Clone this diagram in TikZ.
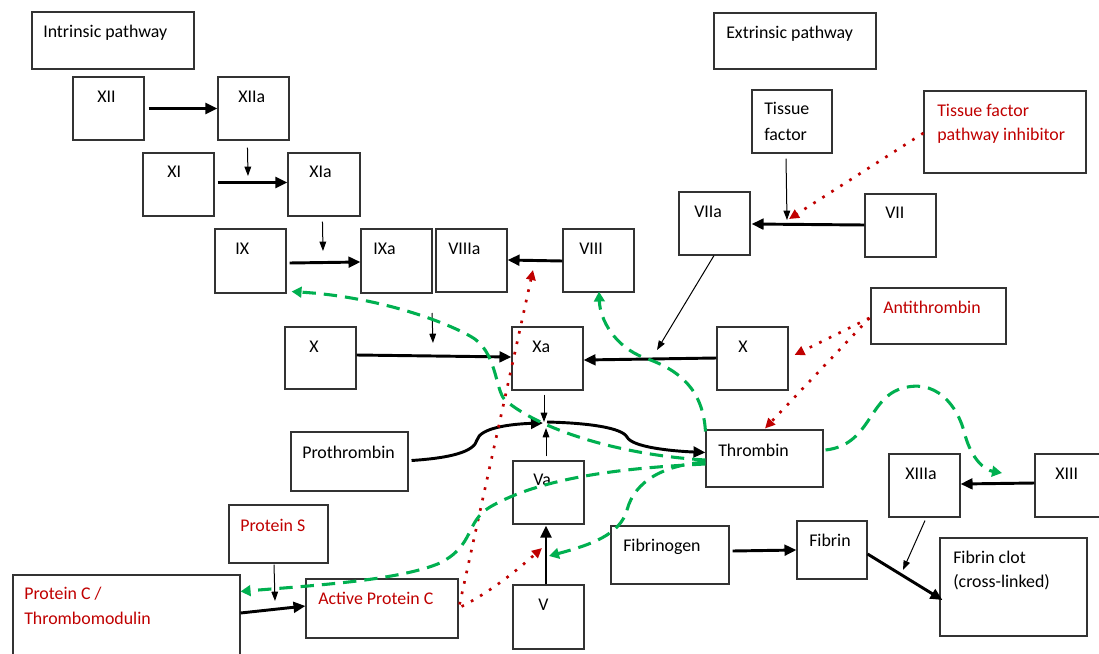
\documentclass[tikz,border=0pt]{standalone}
\usepackage{fontspec}
\setmainfont{Carlito}
\usetikzlibrary{arrows.meta,fit,calc}
\definecolor{myred}{RGB}{192,0,0}
\definecolor{mygreen}{RGB}{0,176,80}
\newcommand\labfont{\fontsize{13.4}{18}\selectfont}
\begin{document}
\begin{tikzpicture}[x=0.75pt,y=-0.75pt,
  box/.style={draw=black!80,line width=0.8pt,inner sep=0pt},
  lbl/.style={anchor=base west,inner sep=0pt,font=\labfont,text=black},
  rlbl/.style={lbl,text=myred},
  thk/.style={line width=2.2pt,-{Triangle[length=9pt,width=8pt]}},
  thn/.style={line width=0.75pt,-{Triangle[length=7pt,width=5pt]}},
  rdot/.style={draw=myred,line width=2pt,dash pattern=on 2pt off 6pt,-{Triangle[length=7.5pt,width=7pt]}},
  gdash/.style={draw=mygreen,line width=2.3pt,dash pattern=on 10pt off 6pt,-{Triangle[length=7.5pt,width=8pt]}}]
\useasboundingbox (0,0) rectangle (1099,653);
\fill[white] (0,0) rectangle (1099,653);
\clip (0,0) rectangle (1099,653);

% boxes
\node[box,fit={(32,12) (194,69)}] (intr) {};
\node[box,fit={(73,77) (144,140)}] (xii) {};
\node[box,fit={(218,77) (289,140)}] (xiia) {};
\node[box,fit={(143,153) (214,216)}] (xi) {};
\node[box,fit={(288,153) (360,216)}] (xia) {};
\node[box,fit={(215,229) (286,293)}] (ix) {};
\node[box,fit={(361,229) (432,293)}] (ixa) {};
\node[box,fit={(436,229) (507,292)}] (viiia) {};
\node[box,fit={(563,229) (634,292)}] (viii) {};
\node[box,fit={(285,327) (356,389)}] (xl) {};
\node[box,fit={(512,327) (583,390)}] (xa) {};
\node[box,fit={(717,327) (788,390)}] (xr) {};
\node[box,fit={(291,432) (408,491)}] (pro) {};
\node[box,fit={(706,430) (823,487)}] (thr) {};
\node[box,fit={(513,461) (584,524)}] (va) {};
\node[box,fit={(513,585) (584,649)}] (v) {};
\node[box,fit={(229,505) (328,563)}] (ps) {};
\node[box,fit={(13,575) (240,665)}] (pc) {};
\node[box,fit={(306,579) (458,638)}] (apc) {};
\node[box,fit={(611,526) (729,584)}] (fgn) {};
\node[box,fit={(797,521) (867,579)}] (fib) {};
\node[box,fit={(889,454) (960,517)}] (xiiia) {};
\node[box,fit={(1035,454) (1110,517)}] (xiii) {};
\node[box,fit={(940,538) (1087,636)}] (clot) {};
\node[box,fit={(714,13) (876,69)}] (extr) {};
\node[box,fit={(752,90) (832,153)}] (tf) {};
\node[box,fit={(924,91) (1086,173)}] (tfpi) {};
\node[box,fit={(679,192) (750,255)}] (viia) {};
\node[box,fit={(865,194) (936,257)}] (vii) {};
\node[box,fit={(871,288) (1006,344)}] (at) {};

% labels
\node[lbl] (l-intr) at (43,37) {Intrinsic pathway};
\node[lbl] (l-xii) at (97,102) {XII};
\node[lbl] (l-xiia) at (238,102) {XIIa};
\node[lbl] (l-xi) at (167,177) {XI};
\node[lbl] (l-xia) at (309,177) {XIa};
\node[lbl] (l-ix) at (235,254) {IX};
\node[lbl] (l-ixa) at (373,254) {IXa};
\node[lbl] (l-viiia) at (448,254) {VIIIa};
\node[lbl] (l-viii) at (579,254) {VIII};
\node[lbl] (l-xa) at (532,352) {Xa};
\node[lbl] (l-xr) at (738,352) {X};
\node[lbl] (l-xl) at (309,352) {X};
\node[lbl] (l-thr) at (718,456) {Thrombin};
\node[lbl] (l-pro) at (302,458) {Prothrombin};
\node[lbl] (l-va) at (533,485) {Va};
\node[lbl] (l-v) at (538,610) {V};
\node[rlbl] (l-ps) at (240,531) {Protein S};
\node[rlbl] (l-pc1) at (24,599) {Protein C /};
\node[rlbl] (l-pc2) at (24,624) {Thrombomodulin};
\node[rlbl] (l-apc) at (318,604) {Active Protein C};
\node[lbl] (l-fgn) at (623,551) {Fibrinogen};
\node[lbl] (l-fib) at (809,546) {Fibrin};
\node[lbl] (l-xiiia) at (905,479) {XIIIa};
\node[lbl] (l-xiii) at (1055,479) {XIII};
\node[lbl] (l-clot1) at (953,563) {Fibrin clot};
\node[lbl] (l-clot2) at (953,587) {(cross-linked)};
\node[lbl] (l-extr) at (726,38) {Extrinsic pathway};
\node[lbl] (l-tf1) at (764,114) {Tissue};
\node[lbl] (l-tf2) at (764,140) {factor};
\node[rlbl] (l-tfpi1) at (937,116) {Tissue factor};
\node[rlbl] (l-tfpi2) at (937,140) {pathway inhibitor};
\node[lbl] (l-viia) at (694,217) {VIIa};
\node[lbl] (l-vii) at (885,218) {VII};
\node[rlbl] (l-at) at (883,313) {Antithrombin};

% free ends
\coordinate (mid) at (545,423);
\coordinate (j1) at (248,176);
\coordinate (j2) at (323,251);
\coordinate (j3s) at (432,313);
\coordinate (j3) at (433,343);
\coordinate (j4) at (657,350);
\coordinate (j7) at (787,220);
\coordinate (j8) at (275,601);
\coordinate (j9) at (903,570);
\coordinate (j10) at (789,219);
\coordinate (j11) at (533,270);
\coordinate (j12) at (542,548);
\coordinate (j13) at (549,556);
\coordinate (j14) at (1002,473);

% thick black arrows
\draw[thk] ($(xii.east)+(4,0)$) -- (xiia.west);
\draw[thk] ($(xi.east)+(3,-2)$) -- ($(xia.west)+(0,-2)$);
\draw[thk] ($(ix.east)+(3,2)$) -- ($(ixa.west)+(0,1)$);
\draw[thk] ($(viii.west)+(0,0.5)$) -- ($(viiia.east)+(0,-0.5)$);
\draw[thk] ($(xl.east)+(0,-3)$) -- ($(xa.west)+(0,-1.5)$);
\draw[thk] ($(xr.west)+(0,-0.5)$) -- ($(xa.east)+(0,1.5)$);
\draw[thk] ($(vii.west)+(0,-0.5)$) -- ($(viia.east)+(1,0.5)$);
\draw[thk] ($(v.north)+(-2.5,0)$) -- ($(va.south)+(-2.5,1)$);
\draw[thk] ($(pc.east)+(0,-7)$) -- ($(apc.west)+(0,-2.5)$);
\draw[thk] ($(xiii.west)+(0,-2.5)$) -- ($(xiiia.east)+(0,-1.5)$);
\draw[thk] ($(fgn.east)+(3,-4)$) -- (fib.west);
\draw[thk] ($(fib.east)+(0,4)$) -- ($(clot.west)+(3,13)$);

% prothrombin -> thrombin curve
\draw[thk] ($(pro.east)+(3,-1)$) .. controls (450,458) and (474,452) .. (477,440)
   .. controls (480,428) and (510,424) .. ($(mid)+(-2,0)$);
\draw[thk] ($(mid)+(2,-1)$) .. controls (590,423) and (622,428) .. (627,437)
   .. controls (632,447) and (670,451) .. ($(thr.west)+(0,-6)$);

% thin arrows
\draw[thn] ($(xiia.south west)+(30,7)$) -- (j1);
\draw[thn] ($(xia.south west)+(35,5)$) -- (j2);
\draw[thn] (j3s) -- (j3);
\draw[thn] ($(viia.south)+(-0.5,0)$) -- (j4);
\draw[thn] ($(xa.south)+(-3.5,4)$) -- ($(mid)+(-1,-1)$);
\draw[thn] ($(va.north)+(-2.5,-4)$) -- ($(mid)+(1,5)$);
\draw[thn] ($(tf.south)+(-6,5)$) -- (j7);
\draw[thn] ($(ps.south)+(-4.5,1)$) -- (j8);
\draw[thn] ($(xiiia.south)+(0.5,3)$) -- (j9);

% red dotted inhibition arrows
\draw[rdot] ($(tfpi.west)+(0,1)$) -- (j10);
\draw[rdot] ($(at.west)+(-1,2)$) -- ($(xr.east)+(6,-3.5)$);
\draw[rdot] ($(at.west)+(-1,2)$) -- ($(thr.north)+(0.5,-1)$);
\draw[rdot] ($(apc.east)+(1,-4)$) -- (j11);
\draw[rdot] ($(apc.east)+(3,-2)$) .. controls (490,592) and (515,572) .. (j12);

% green dashed feedback arrows
\draw[gdash] ($(thr.west)+(0,1.5)$) .. controls (620,455) and (540,430) .. (505,400)
   .. controls (495,390) and (497,350) .. (470,336)
   .. controls (445,322) and (380,297) .. ($(ix.south east)+(5,-2)$);
\draw[gdash] ($(thr.north west)+(0,2)$) .. controls (703,390) and (680,370) .. (645,358)
   .. controls (615,347) and (600,320) .. ($(viii.south)+(0.5,-1)$);
\draw[gdash] ($(thr.west)+(0,5.5)$) .. controls (620,468) and (540,478) .. (490,507)
   .. controls (465,522) and (475,545) .. (440,563)
   .. controls (400,580) and (320,585) .. ($(pc.north east)+(0,17)$);
\draw[gdash] ($(thr.west)+(0,3.5)$) .. controls (665,465) and (635,480) .. (627,510)
   .. controls (620,535) and (590,545) .. (j13);
\draw[gdash] ($(thr.east)+(2,-8.5)$) .. controls (870,445) and (868,400) .. (900,389)
   .. controls (935,377) and (958,405) .. (965,435)
   .. controls (972,460) and (985,470) .. (j14);
\end{tikzpicture}
\end{document}
